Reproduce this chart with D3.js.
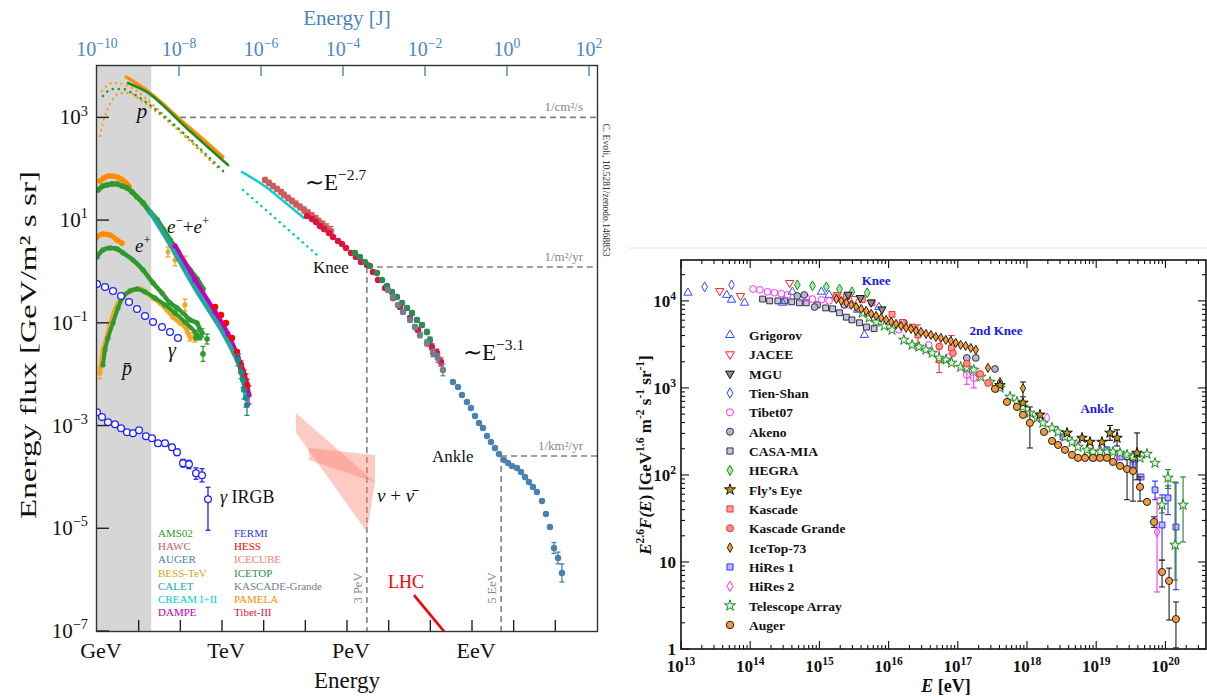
<!DOCTYPE html>
<html><head><meta charset="utf-8">
<script src="https://cdn.jsdelivr.net/npm/d3@7/dist/d3.min.js"></script>
<style>
html,body{margin:0;padding:0;background:#fff;}
svg{display:block;font-family:"Liberation Serif","Times New Roman",serif;}
</style></head><body>
<svg id="chart" width="1207" height="696"></svg>
<script>
// ================= LEFT PANEL DATA =================
// energy [GeV], energy flux E^2 dN/dE [GeV / m^2 s sr]
const xTickNames = ['GeV','TeV','PeV','EeV'];
const xTickNameValues = [1,1e3,1e6,1e9];
const xMinorValues = [1e1,1e2,1e4,1e5,1e7,1e8,1e10,1e11];
const jTickValues = [1e-10,1e-8,1e-6,1e-4,1e-2,1e0,1e2];
const jTickExps = ['\u221210','\u22128','\u22126','\u22124','\u22122','0','2'];
const yTickValuesL = [1e3,1e1,1e-1,1e-3,1e-5,1e-7];
const yTickExpsL = ['3','1','\u22121','\u22123','\u22125','\u22127'];
const shadeMaxGeV = 20;

const protonAMS = [[5.55,4680],[14.2,3270],[145,609],[1393,118]];
const protonPAMELA = [[4.97,6120],[14.2,3570],[145,693],[391,347],[1057,169]];
const protonDotGreen = [[1.39,2610],[1.84,3270],[2.42,3570],[3.19,3570],[4.21,3570],[6.19,3126],[9.12,2610],[15.8,1910],[1318,75.7]];
const protonDotOrangeHi = [[1.32,3270],[1.74,4090],[2.29,4680],[3.02,4680],[3.98,4480],[5.55,4090],[9.12,3270],[14.2,2390],[608,130]];
const protonDotOrangeLo = [[1.18,435],[1.32,681],[1.56,1067],[1.84,1525],[2.42,2285],[3.19,2860],[4.70,2990],[6.92,2860],[9.64,2390],[14.2,1910],[895,94.7]];
const creamSolid = [[3020,86.5],[1.42e4,38.6],[2.75e4,24.7],[9.29e4,11.0]];
const creamDotted = [[3192,38.6],[1.91e5,2.10]];

const hawc = [[1.08e4,60.4,0.12],[1.34e4,52.8,0.12],[1.67e4,46.1,0.12],[2.09e4,40.4,0.12],[2.61e4,35.2,0.12],[3.08e4,30.8,0.13],[3.84e4,27.0,0.13],[4.79e4,23.6,0.13],[5.97e4,20.6,0.14],[7.45e4,18.0,0.14],[9.29e4,15.7,0.15],[1.16e5,13.8,0.15],[1.45e5,12.0,0.16],[1.80e5,10.5,0.17],[2.13e5,9.18,0.18],[2.65e5,8.04,0.19],[3.31e5,7.03,0.2],[4.13e5,6.14,0.22]];
const tibet3 = [[1.10e5,12.0],[1.45e5,10.5],[1.80e5,9.2],[2.25e5,7.69],[2.81e5,6.71],[3.70e5,5.62],[4.61e5,4.70],[6.08e5,3.93],[7.59e5,3.43],[9.46e5,2.87],[1.25e6,2.29],[1.64e6,1.92],[2.17e6,1.53],[3.02e6,1.34],[4.21e6,0.977],[5.55e6,0.684],[8.17e6,0.477],[1.27e7,0.305,0.05],[1.87e7,0.204,0.06],[3.25e7,0.124,0.08],[5.05e7,0.0727,0.1],[8.77e7,0.0405,0.12],[1.09e8,0.0339,0.15],[1.44e8,0.0259,0.18],[1.80e8,0.0173,0.2]];
const icetopL = [[1.56e6,2.29,0.06],[2.05e6,1.92,0.06],[2.70e6,1.53,0.06],[3.56e6,1.28,0.06],[5.25e6,0.935,0.06],[6.92e6,0.684,0.07],[9.12e6,0.522,0.07],[1.20e7,0.399,0.08],[1.58e7,0.319,0.08],[2.09e7,0.244,0.09],[2.75e7,0.195,0.09],[3.63e7,0.156,0.1],[4.78e7,0.114,0.1],[6.30e7,0.0908,0.11],[8.30e7,0.0664,0.12],[9.80e7,0.0464,0.14]];
const kascadeGrandeL = [[9.64e6,0.436,0.08],[1.27e7,0.319,0.08],[1.67e7,0.223,0.09],[2.21e7,0.163,0.1],[3.25e7,0.114,0.1],[4.28e7,0.0830,0.12],[5.64e7,0.0579,0.13],[8.30e7,0.0405,0.15],[1.16e8,0.0259,0.18],[1.52e8,0.0207,0.22],[2.01e8,0.0121,0.3]];
const augerL = [[3.49e8,7.05e-3],[4.61e8,5.64e-3],[5.74e8,3.94e-3],[7.57e8,2.88e-3],[9.44e8,2.20e-3],[1.18e9,1.53e-3],[1.47e9,1.12e-3],[1.83e9,8.98e-4],[2.29e9,6.27e-4],[2.85e9,4.79e-4],[3.56e9,3.66e-4],[4.44e9,2.79e-4],[5.85e9,2.13e-4],[7.29e9,1.87e-4],[9.10e9,1.63e-4],[1.20e10,1.49e-4],[1.50e10,1.25e-4],[1.87e10,9.95e-5],[2.33e10,7.96e-5],[2.90e10,6.37e-5],[3.62e10,5.08e-5],[4.78e10,3.40e-5],[5.96e10,1.90e-5],[7.43e10,1.06e-5],[9.27e10,4.13e-6,0.28],[1.16e11,2.64e-6,0.3],[1.44e11,1.35e-6,0.5]];

const elecAMS = [[1.06,38.6],[1.39,46.2],[1.74,48.3],[2.29,50.6],[3.02,50.6],[3.98,46.2],[5.25,42.3],[6.92,35.3],[9.12,28.2],[12.7,21.6],[18.7,14.4],[27.5,10.1],[38.4,6.72],[56.5,4.10],[83.2,2.62],[116,1.67],[171,1.07],[251,0.714],[350,0.456]];
const elecPAMELA = [[1.18,57.8],[1.47,66.1],[1.84,72.3],[2.29,72.3],[3.02,69.1],[3.77,63.2],[4.70,55.3],[5.86,46.2]];
const elecBESS = [[50.6,2.40,0.25],[74.5,1.67,0.3],[129,1.53,0.3]];
const elecCALET = [[18.7,14.4],[42.9,4.91],[98.2,1.53],[225,0.477],[515,0.163],[1057,0.0635],[1837,0.0271],[2704,0.0132],[3565,0.00493]];
const elecCALETtail = [[2421,0.0189,0.3],[2858,0.0110,0.35],[3192,0.0077,0.4],[3373,0.00493,0.5],[3767,0.00344,0.5],[3981,0.00252,0.6]];
const elecDAMPE = [[74.5,3.14],[225,0.683],[679,0.163],[1393,0.0607],[2421,0.0216,0.15],[3767,0.0077,0.3],[4446,0.00394,0.5]];
const elecHESS = [[679,0.204],[946,0.142],[1247,0.0993],[1738,0.0507],[2291,0.0271],[2858,0.0151,0.2],[3373,0.00966,0.25],[3981,0.00617,0.3]];
const posAMS = [[1.0,1.92],[1.39,2.62],[2.05,2.87],[3.02,2.74],[4.21,2.29],[7.31,1.67],[12.7,1.07],[22.1,0.597],[36.3,0.381],[56.5,0.244],[83.2,0.195],[116,0.156],[171,0.114],[251,0.0993],[296,0.0726]];
const posPAMELA = [[1.0,4.70],[1.39,5.37],[2.05,5.14],[3.02,4.10],[3.98,3.59]];
const posPAMELAerr = [[129,0.223,0.3]];
const pbarPAMELA = [[1.18,0.0106,0.3],[1.39,0.0296],[1.74,0.0531],[2.05,0.0908],[2.70,0.178],[3.56,0.279],[5.25,0.381],[7.31,0.436],[10.8,0.456],[15.8,0.381],[22.1,0.305],[32.5,0.244],[47.9,0.178],[66.7,0.130],[98.2,0.0993],[145,0.0726,0.15],[171,0.0531,0.2],[225,0.0507,0.2]];
const pbarAMS = [[1.39,0.0151],[1.56,0.0296],[1.84,0.0507],[2.42,0.0993],[3.19,0.195],[4.21,0.319],[6.19,0.417],[9.12,0.456],[14.2,0.399],[24.6,0.305],[42.9,0.223],[74.5,0.156],[129,0.104],[225,0.0664],[296,0.0507]];
const pbarAMSerr = [[238,0.0531,0.15],[331,0.0635,0.2],[437,0.0484,0.25],[350,0.0248,0.4]];
const gammaFermi = [[1.0,0.571],[1.56,0.499],[2.42,0.417],[3.77,0.333],[5.86,0.255],[9.12,0.186],[14.2,0.136],[22.1,0.104],[36.3,0.083],[56.5,0.0664],[87.9,0.0507]];
const gammaIRGB = [[1.0,1.82e-3,1.75e-3,1.9e-3],[1.32,1.46e-3,1.4e-3,1.53e-3],[1.84,1.16e-3,1.1e-3,1.22e-3],[2.70,1.06e-3,1.0e-3,1.12e-3],[3.77,8.87e-4,8.3e-4,9.5e-4],[5.25,7.42e-4,6.9e-4,8.0e-4],[7.31,7.08e-4,6.5e-4,7.7e-4],[10.2,8.11e-4,7.5e-4,8.8e-4],[15.0,6.19e-4,5.7e-4,6.7e-4],[20.9,5.66e-4,5.1e-4,6.3e-4],[29.1,4.52e-4,4.0e-4,5.1e-4],[42.9,4.52e-4,4.0e-4,5.1e-4],[63.1,3.78e-4,3.3e-4,4.3e-4],[83.2,3.02e-4,2.6e-4,3.5e-4],[116,1.85e-4,1.55e-4,2.2e-4],[161,1.76e-4,1.45e-4,2.1e-4],[238,1.18e-4,9.0e-5,1.5e-4],[331,1.08e-4,8.0e-5,1.45e-4],[461,3.67e-5,9.15e-6,6.29e-5]];
const nuBandSteep = [[5.97e4,1.76e-3],[4.70e6,7.96e-5],[3.02e6,8.5e-6],[5.97e4,7.2e-4]];
const nuBandFlat = [[1.22e5,3.66e-4],[4.70e6,2.67e-4],[4.70e6,7.96e-5],[1.22e5,2.14e-4]];
const lhcLine = [[4.05e7,5.0e-7],[4.0e8,5.3e-8]];

// reference flux levels: [label, flux, start energy]
const refLevels = [['1/cm\u00b2/s',1e3,98],['1/m\u00b2/yr',1.22,3.0e6],['1/km\u00b2/yr',2.56e-4,5.0e9]];
const refEnergies = [['3 PeV',3.0e6,1.22],['5 EeV',5.0e9,2.56e-4]];

const legendLeftNames1 = ['AMS02','HAWC','AUGER','BESS-TeV','CALET','CREAM I+II','DAMPE'];
const legendLeftNames2 = ['FERMI','HESS','ICECUBE','ICETOP','KASCADE-Grande','PAMELA','Tibet-III'];

// ================= RIGHT PANEL DATA =================
// E [eV], E^2.6 F(E) [GeV^1.6 m^-2 s^-1 sr^-1], optional [lo, hi]
const xTickExpsR = [13,14,15,16,17,18,19,20];
const yTickValuesR = [1,10,100,1000,10000];

const grigorov = [[1.26e13,1.24e4],[4.57e13,1.17e4],[5.37e13,1.03e4],[8.3e13,9.5e3],[2.95e14,9.5e3],[4.07e14,1.27e4],[1.07e15,1.27e4],[1.38e15,1.17e4],[3.55e15,7.9e3],[4.47e15,4.06e3],[7.24e15,8.5e3]];
const jacee = [[3.63e13,1.30e4],[7.24e13,1.14e4],[3.72e14,1.61e4],[1.82e15,1.17e4],[3.2e15,1.05e4]];
const mgu = [[2.6e15,1.18e4],[3.9e15,1.08e4],[5.6e15,9.6e3],[8.0e15,8.0e3]];
const tienShan = [[2.2e13,1.45e4],[5.37e13,1.53e4]];
const tibet07 = [[1.10e14,1.37e4],[1.38e14,1.34e4],[1.78e14,1.27e4],[2.24e14,1.24e4],[2.82e14,1.21e4],[3.47e14,1.17e4],[6.46e14,1.08e4],[7.94e14,1.05e4],[1.07e15,1.03e4],[1.38e15,1.0e4],[2.69e15,9.0e3],[5.25e15,6.9e3],[1.41e16,4.66e3],[3.8e16,3.12e3],[7.4e16,2.26e3],[1.35e17,1.41e3,1.1e3,1.8e3],[1.7e17,1.30e3,1.0e3,1.7e3]];
const akeno = [[4.79e14,1.14e4],[6.03e14,1.17e4],[8.5e14,8.5e3],[2.29e15,8.99e3],[1.66e16,5.6e3],[1.35e17,2.21e3],[1.82e17,2.21e3],[3.45e17,1.65e3]];
const casaMia = [[1.51e14,1.05e4],[1.91e14,1.0e4],[2.51e14,1.0e4],[3.16e14,1.0e4],[3.98e14,9.75e3],[5.13e14,9.5e3],[6.46e14,9.5e3],[9.33e14,9.0e3],[1.23e15,8.3e3],[1.55e15,8.1e3],[1.95e15,7.3e3],[2.45e15,6.5e3],[2.95e15,6.05e3],[3.80e15,5.6e3],[4.79e15,5.0e3],[6.17e15,4.8e3]];
const hegra = [[4.79e14,1.53e4],[7.94e14,1.49e4],[1.26e15,1.45e4],[1.95e15,1.37e4],[2.95e15,1.27e4],[4.9e15,1.24e4]];
const flysEye = [[4.07e17,1.07e3],[8.75e17,673],[1.54e18,490],[3.79e18,304],[6.24e18,266],[8.13e18,239],[1.21e19,239],[1.58e19,304,250,370],[2.0e19,266,215,330],[3.89e19,179,88,304]];
const kascade = [[1.74e15,1.11e4],[2.45e15,1.11e4],[4.17e15,1.03e4],[5.75e15,9.5e3],[1.12e16,7.0e3],[1.58e16,5.65e3],[2.19e16,5.0e3],[2.65e16,4.06e3,3.1e3,5.3e3],[5.37e16,2.1e3,1.5e3,2.8e3],[8.1e16,2.88e3,1.9e3,4.0e3]];
const kascadeGrande = [[5.4e16,3.0e3],[8.5e16,2.5e3],[1.35e17,1.9e3],[2.1e17,1.45e3],[2.73e17,1.14e3]];
const icetop73 = [[1.76e15,1.05e4],[2.07e15,1.0e4],[2.45e15,9.5e3],[2.88e15,9.0e3],[3.40e15,8.53e3],[4.02e15,8.1e3],[4.74e15,7.67e3],[5.6e15,7.1e3],[6.6e15,6.73e3],[7.8e15,6.38e3],[9.2e15,6.05e3],[1.09e16,5.74e3],[1.28e16,5.44e3],[1.51e16,5.16e3],[1.79e16,4.9e3],[2.11e16,4.77e3],[2.49e16,4.52e3],[2.94e16,4.4e3],[3.47e16,4.18e3],[4.09e16,4.06e3],[4.82e16,3.85e3],[5.69e16,3.76e3],[6.71e16,3.56e3],[7.93e16,3.47e3],[9.35e16,3.29e3],[1.10e17,3.12e3],[1.30e17,3.04e3],[1.54e17,2.88e3],[1.82e17,2.74e3],[2.73e17,1.70e3],[4.07e17,1.17e3],[8.75e17,990,790,1170]];
const hires1 = [[3.31e18,274],[8.99e18,157],[1.43e19,194],[2.21e19,161],[3.40e19,130],[4.44e19,94.8],[7.08e19,67.3,52,85],[8.94e19,26.6,10.5,58.9],[1.09e20,54.5,35,75],[1.42e20,25.2,4.8,81]];
const hires2 = [[1.95e18,452],[5.46e18,239],[1.14e19,194],[2.0e19,161],[7.57e19,22.1,4.52,54.5]];
const telescopeArray = [[4.17e15,7.28e3],[5.25e15,6.38e3],[6.6e15,5.74e3],[8.7e15,5.16e3],[1.12e16,4.64e3],[1.66e16,3.56e3],[2.19e16,3.12e3],[2.75e16,2.96e3],[3.47e16,2.74e3],[4.27e16,2.52e3],[5.37e16,2.21e3],[6.76e16,2.1e3],[8.13e16,1.94e3],[1.10e17,1.74e3],[1.35e17,1.70e3],[1.70e17,1.61e3],[2.14e17,1.34e3],[2.92e17,1.17e3],[4.07e17,1.0e3],[5.68e17,789],[7.16e17,690],[8.75e17,605],[1.10e18,516],[1.40e18,452],[1.70e18,396],[2.30e18,347],[2.81e18,312],[3.54e18,274],[4.47e18,239],[5.46e18,210],[7.37e18,194],[8.99e18,184],[1.14e19,184],[1.43e19,184],[1.75e19,184],[2.21e19,179],[2.79e19,170],[3.40e19,161],[4.30e19,157],[5.42e19,174],[7.08e19,137],[8.94e19,45.2,36.6,54.5],[1.09e20,92.5,70,115],[1.38e20,15.7,6.2,83],[1.80e20,45.2,17,94.8]];
const auger = [[3.45e17,975],[5.14e17,690],[7.16e17,605],[8.75e17,490],[1.10e18,396,204,605],[1.76e18,312],[2.30e18,246],[2.81e18,221],[3.54e18,194],[4.47e18,170],[5.46e18,157],[6.89e18,157],[8.99e18,157],[1.14e19,157],[1.43e19,157],[1.75e19,141],[2.21e19,127],[2.79e19,117,52,150],[3.40e19,111,50,145],[4.30e19,72.8,50,95],[5.42e19,49],[6.84e19,28.8,25,33],[8.94e19,7.67,5.16,10.5],[1.13e20,6.05,2.15,8.5],[1.42e20,2.21,1.03,3.47]];

const legendRightNames = ['Grigorov','JACEE','MGU','Tien-Shan','Tibet07','Akeno','CASA-MIA','HEGRA',"Fly\u2019s Eye",'Kascade','Kascade Grande','IceTop-73','HiRes 1','HiRes 2','Telescope Array','Auger'];
const rightSeries = [grigorov,jacee,mgu,tienShan,tibet07,akeno,casaMia,hegra,flysEye,kascade,kascadeGrande,icetop73,hires1,hires2,telescopeArray,auger];
const drawOrderR = [6,0,1,3,4,5,7,9,2,12,13,14,11,10,8,15];

// ================= DRAWING =================
const svg = d3.select('#chart');
const defs = svg.append('defs');

function rich(g, x, y, parts, size, attrs){
  const t = g.append('text').attr('x',x).attr('y',y).attr('font-size',size);
  Object.entries(attrs||{}).forEach(([k,v])=>t.attr(k,v));
  let cur = 0;
  parts.forEach(p=>{
    const target = p.sup ? -size*0.42 : 0;
    const ts = t.append('tspan').attr('dy', target-cur).text(p.t);
    cur = target;
    if(p.sup) ts.attr('font-size', size*0.68);
    if(p.it) ts.attr('font-style','italic');
  });
  return t;
}

// ---------- LEFT PANEL ----------
const L = {x0:97, x1:597, y0:66, y1:631};
const xL = d3.scaleLog().domain([1,1e12]).range([L.x0,L.x1]);
const xJ = d3.scaleLog().domain([1e-10,156.7]).range([L.x0,L.x1]);
const yL = d3.scaleLog().domain([1e-7,1e4]).range([L.y1,L.y0]);
const colL = {AMS02:'#2e9a2e',HAWC:'#cd5c5c',AUGER:'#4682b4','BESS-TeV':'#daa520',CALET:'#20a8a0','CREAM I+II':'#00ced1',DAMPE:'#c000c0',FERMI:'#3333ff',HESS:'#ff0000',ICECUBE:'#fa8072',ICETOP:'#2e8b57','KASCADE-Grande':'#708090',PAMELA:'#ff8c00','Tibet-III':'#dc143c'};

defs.append('clipPath').attr('id','clipL').append('rect').attr('x',L.x0).attr('y',L.y0).attr('width',L.x1-L.x0).attr('height',L.y1-L.y0);
const gL = svg.append('g').attr('clip-path','url(#clipL)');

gL.append('rect').attr('x',xL(1)).attr('y',L.y0).attr('width',xL(shadeMaxGeV)-xL(1)).attr('height',L.y1-L.y0).attr('fill','#d6d6d6');

refLevels.forEach(r=>{
  gL.append('line').attr('x1',xL(r[2])).attr('x2',L.x1).attr('y1',yL(r[1])).attr('y2',yL(r[1]))
    .attr('stroke','#808080').attr('stroke-width',1.6).attr('stroke-dasharray','6,4');
});
refEnergies.forEach(r=>{
  gL.append('line').attr('x1',xL(r[1])).attr('x2',xL(r[1])).attr('y1',yL(r[2])).attr('y2',L.y1)
    .attr('stroke','#808080').attr('stroke-width',1.6).attr('stroke-dasharray','6,4');
});

const polyL = d3.line().x(d=>xL(d[0])).y(d=>yL(d[1]));
[nuBandSteep,nuBandFlat].forEach(b=>{
  gL.append('path').attr('d',polyL(b)+'Z').attr('fill',colL.ICECUBE).attr('fill-opacity',0.42);
});

function pathL(data, color, w, dash){
  gL.append('path').datum(data)
    .attr('d', d3.line().x(d=>xL(d[0])).y(d=>yL(d[1])).curve(d3.curveMonotoneX))
    .attr('fill','none').attr('stroke',color).attr('stroke-width',w)
    .attr('stroke-dasharray',dash||null).attr('stroke-linecap','round').attr('stroke-linejoin','round');
}
function errL(d){
  if(d.length===3) return [d[1]/(1+d[2]), d[1]*(1+d[2])];
  if(d.length===4) return [d[2],d[3]];
  return null;
}
function dotsL(data, color, r, open){
  data.forEach(d=>{
    const e = errL(d);
    if(e){
      const x = xL(d[0]);
      gL.append('line').attr('x1',x).attr('x2',x).attr('y1',yL(e[0])).attr('y2',yL(e[1])).attr('stroke',color).attr('stroke-width',1.3);
      [e[0],e[1]].forEach(v=>gL.append('line').attr('x1',x-2.5).attr('x2',x+2.5).attr('y1',yL(v)).attr('y2',yL(v)).attr('stroke',color).attr('stroke-width',1.3));
    }
  });
  gL.append('g').selectAll('circle').data(data).join('circle')
    .attr('cx',d=>xL(d[0])).attr('cy',d=>yL(d[1])).attr('r',r)
    .attr('fill',open?'#fff':color).attr('stroke',color).attr('stroke-width',open?1.3:0);
}

pathL(protonDotOrangeLo,'#f5a623',2.6,'0.1,5.5');
pathL(protonDotOrangeHi,'#f5a623',2.6,'0.1,5.5');
pathL(protonDotGreen,'#2e9a2e',2.6,'0.1,6');
pathL(protonPAMELA,'#ff8c00',3.2);
pathL(protonAMS,'#228b22',2.6);
pathL(creamSolid,colL['CREAM I+II'],2.4);
pathL(creamDotted,colL['CREAM I+II'],2.6,'0.1,6');
dotsL(hawc,colL.HAWC,3.2);
dotsL(tibet3,colL['Tibet-III'],3.2);
dotsL(icetopL,colL.ICETOP,3.2);
dotsL(kascadeGrandeL,colL['KASCADE-Grande'],3.2);
dotsL(augerL,colL.AUGER,3.2);

pathL(elecPAMELA,'#ff8c00',5);
dotsL(elecPAMELA,'#ff8c00',2.8);
pathL(elecAMS,'#2e9a2e',5);
dotsL(elecAMS,'#2e9a2e',2.8);
dotsL(elecBESS,'#f5a623',2.5);
pathL(elecDAMPE,colL.DAMPE,4.5);
pathL(elecCALET,colL.CALET,4.5);
dotsL(elecDAMPE,colL.DAMPE,2.6);
dotsL(elecHESS,colL.HESS,3.2);
dotsL(elecCALETtail,'#1b8a8a',3);
pathL(posPAMELA,'#ff8c00',5);
dotsL(posPAMELA,'#ff8c00',2.8);
pathL(posAMS,'#2e9a2e',4.5);
dotsL(posAMS,'#2e9a2e',2.6);
dotsL(posPAMELAerr,'#f5a623',2.6);
pathL(pbarPAMELA,'#f5a623',4.5);
dotsL(pbarPAMELA,'#f5a623',2.6);
pathL(pbarAMS,'#2e9a2e',4);
dotsL(pbarAMS,'#2e9a2e',2.6);
dotsL(pbarAMSerr,'#2e9a2e',2.8);
dotsL(gammaFermi,'#2222ff',3.4,true);
dotsL(gammaIRGB,'#2222ff',3.4,true);

gL.append('path').datum(lhcLine).attr('d',d3.line().x(d=>xL(d[0])).y(d=>yL(d[1]))).attr('stroke','#ff0000').attr('stroke-width',2.6).attr('fill','none');

const annL = svg.append('g').attr('fill','#111');
rich(annL,xL(12.0),yL(975),[{t:'p',it:true}],21,{'text-anchor':'middle'});
rich(annL,xL(47.9),yL(5.62),[{t:'e',it:true},{t:'\u2212',sup:true},{t:'+'},{t:'e',it:true},{t:'+',sup:true}],19);
rich(annL,xL(8.17),yL(2.40),[{t:'e',it:true},{t:'+',sup:true}],19);
rich(annL,xL(63.1),yL(0.0216),[{t:'\u03b3',it:true}],20,{'text-anchor':'middle'});
rich(annL,xL(5.25),yL(9.66e-3),[{t:'p\u0304',it:true}],20,{'text-anchor':'middle'});
rich(annL,xL(895),yL(3.11e-5),[{t:'\u03b3',it:true},{t:' IRGB'}],18);
rich(annL,xL(9.82e4),yL(38.6),[{t:'\u223cE'},{t:'\u22122.7',sup:true}],23);
rich(annL,xL(6.07e8),yL(0.0189),[{t:'\u223cE'},{t:'\u22123.1',sup:true}],23);
rich(annL,xL(1.53e5),yL(0.935),[{t:'Knee'}],17);
rich(annL,xL(1.09e8),yL(1.95e-4),[{t:'Ankle'}],17);
rich(annL,xL(5.25e6),yL(3.25e-5),[{t:'\u03bd',it:true},{t:' + '},{t:'\u03bd\u0304',it:true}],19);
rich(annL,xL(9.64e6),yL(6.88e-7),[{t:'LHC'}],18,{fill:'#ff0000'});
refLevels.forEach(r=>{
  annL.append('text').attr('x',L.x1-14).attr('y',yL(r[1])-6).attr('text-anchor','end').attr('font-size',13).attr('fill','#888').text(r[0]);
});
refEnergies.forEach(r=>{
  annL.append('text').attr('transform',`translate(${xL(r[1])-5},588) rotate(-90)`).attr('text-anchor','middle').attr('font-size',12.5).attr('fill','#888').text(r[0]);
});

legendLeftNames1.forEach((n,i)=>annL.append('text').attr('x',158).attr('y',537+i*13.2).attr('font-size',11).attr('fill',colL[n]).text(n));
legendLeftNames2.forEach((n,i)=>annL.append('text').attr('x',234).attr('y',537+i*13.2).attr('font-size',11).attr('fill',colL[n]).text(n));

const axL = svg.append('g');
axL.append('rect').attr('x',L.x0-0.5).attr('y',L.y0-0.5).attr('width',L.x1-L.x0+1).attr('height',L.y1-L.y0+1).attr('fill','none').attr('stroke','#333').attr('stroke-width',1.4);
xTickNameValues.concat(xMinorValues).forEach(v=>{
  if(v<=1) return;
  axL.append('line').attr('x1',xL(v)).attr('x2',xL(v)).attr('y1',L.y1).attr('y2',L.y1-11).attr('stroke','#222').attr('stroke-width',1.4);
});
xTickNames.forEach((n,i)=>axL.append('text').attr('x',xL(xTickNameValues[i])+4).attr('y',658).attr('text-anchor','middle').attr('font-size',22).attr('fill','#111').text(n));
axL.append('text').attr('x',347).attr('y',688).attr('text-anchor','middle').attr('font-size',23).attr('fill','#111').text('Energy');
yTickValuesL.forEach((v,i)=>{
  axL.append('line').attr('x1',L.x0).attr('x2',L.x0+12).attr('y1',yL(v)).attr('y2',yL(v)).attr('stroke','#222').attr('stroke-width',1.4);
  rich(axL,88,yL(v)+7,[{t:'10'},{t:yTickExpsL[i],sup:true}],21,{'text-anchor':'end',fill:'#111'});
});
axL.append('text').attr('transform','translate(36,345) rotate(-90)').attr('text-anchor','middle').attr('font-size',23).attr('fill','#111')
  .attr('textLength',348).attr('lengthAdjust','spacingAndGlyphs').text('Energy flux [GeV/m\u00b2 s sr]');
const jBlue = '#4a86bf';
jTickValues.forEach((v,i)=>{
  if(i>0) axL.append('line').attr('x1',xJ(v)).attr('x2',xJ(v)).attr('y1',L.y0).attr('y2',L.y0+10).attr('stroke',jBlue).attr('stroke-width',1.4);
  rich(axL,xJ(v),56,[{t:'10'},{t:jTickExps[i],sup:true}],20,{'text-anchor':'middle',fill:jBlue});
});
axL.append('text').attr('x',347).attr('y',25).attr('text-anchor','middle').attr('font-size',21).attr('fill',jBlue).text('Energy [J]');
axL.append('text').attr('transform','translate(603,190) rotate(90)').attr('text-anchor','middle').attr('font-size',9.5).attr('fill','#333').text('C. Evoli, 10.5281/zenodo.1468853');

// ---------- RIGHT PANEL ----------
const R = {x0:681, x1:1206, y0:260, y1:649};
const xR = d3.scaleLog().domain([1e13,3.86e20]).range([R.x0,R.x1]);
const yR = d3.scaleLog().domain([1,2.95e4]).range([R.y1,R.y0]);
svg.append('line').attr('x1',628).attr('x2',1207).attr('y1',248).attr('y2',248).attr('stroke','#e4e4e4').attr('stroke-width',1);
defs.append('clipPath').attr('id','clipR').append('rect').attr('x',R.x0).attr('y',R.y0).attr('width',R.x1-R.x0).attr('height',R.y1-R.y0);
const gR = svg.append('g').attr('clip-path','url(#clipR)');

const stylesR = [
  {shape:d3.symbolTriangle,rot:0,fill:'none',stroke:'#2b4cff',size:30},
  {shape:d3.symbolTriangle,rot:180,fill:'none',stroke:'#ff2020',size:30},
  {shape:d3.symbolTriangle,rot:180,fill:'#8a8a8a',stroke:'#111',size:30},
  {shape:d3.symbolDiamond,rot:0,fill:'none',stroke:'#2b4cff',size:28},
  {shape:d3.symbolCircle,rot:0,fill:'none',stroke:'#ff30ff',size:36},
  {shape:d3.symbolCircle,rot:0,fill:'#b4b4dc',stroke:'#333',size:36},
  {shape:d3.symbolSquare,rot:0,fill:'#c2c2ea',stroke:'#333',size:34},
  {shape:d3.symbolDiamond,rot:0,fill:'#a8e8a8',stroke:'#149414',size:28},
  {shape:d3.symbolStar,rot:0,fill:'#c8960f',stroke:'#111',size:34},
  {shape:d3.symbolSquare,rot:0,fill:'#ff9c9c',stroke:'#ff3030',size:34},
  {shape:d3.symbolCircle,rot:0,fill:'#ff8c8c',stroke:'#ff3030',size:36},
  {shape:d3.symbolDiamond,rot:0,fill:'#ff9a30',stroke:'#222',size:24},
  {shape:d3.symbolSquare,rot:0,fill:'#b8bcff',stroke:'#3030ff',size:34},
  {shape:d3.symbolDiamond,rot:0,fill:'none',stroke:'#ff30ff',size:28},
  {shape:d3.symbolStar,rot:0,fill:'#dff5df',stroke:'#1e8a1e',size:34},
  {shape:d3.symbolCircle,rot:0,fill:'#f59a3a',stroke:'#222',size:40}
];
function drawSym(g,x,y,st,scale){
  g.append('path').attr('d',d3.symbol().type(st.shape).size(st.size*(scale||1))())
    .attr('transform',`translate(${x},${y}) rotate(${st.rot})`)
    .attr('fill',st.fill).attr('stroke',st.stroke).attr('stroke-width',1);
}
drawOrderR.forEach(si=>{
  const st = stylesR[si], data = rightSeries[si];
  data.forEach(d=>{
    if(d.length===4){
      const x=xR(d[0]);
      gR.append('line').attr('x1',x).attr('x2',x).attr('y1',yR(d[2])).attr('y2',yR(d[3])).attr('stroke',st.stroke).attr('stroke-width',1.1);
      [d[2],d[3]].forEach(v=>gR.append('line').attr('x1',x-3).attr('x2',x+3).attr('y1',yR(v)).attr('y2',yR(v)).attr('stroke',st.stroke).attr('stroke-width',1.1));
    }
  });
  data.forEach(d=>drawSym(gR,xR(d[0]),yR(d[1]),st));
});

const legR = svg.append('g');
legendRightNames.forEach((n,i)=>{
  const y = 335+i*19.33;
  drawSym(legR,730,y,stylesR[i],1.1);
  legR.append('text').attr('x',749).attr('y',y+5).attr('font-size',13.5).attr('font-weight','bold').attr('fill','#111').text(n);
});

[['Knee',6.6e15,1.53e4],['2nd Knee',3.57e17,4.06e3],['Ankle',1.03e19,516]].forEach(a=>{
  svg.append('text').attr('x',xR(a[1])).attr('y',yR(a[2])).attr('text-anchor','middle').attr('font-size',13).attr('font-weight','bold').attr('fill','#1a1aee').text(a[0]);
});

const axR = svg.append('g');
axR.append('rect').attr('x',R.x0).attr('y',R.y0).attr('width',R.x1-R.x0).attr('height',R.y1-R.y0).attr('fill','none').attr('stroke','#111').attr('stroke-width',1.6);
for(let e=13;e<=20;e++){
  for(let k=1;k<=9;k++){
    const v=k*Math.pow(10,e); if(v>3.86e20) continue;
    const len = k===1?8:4; const x=xR(v);
    axR.append('line').attr('x1',x).attr('x2',x).attr('y1',R.y1).attr('y2',R.y1-len).attr('stroke','#111').attr('stroke-width',1.1);
    axR.append('line').attr('x1',x).attr('x2',x).attr('y1',R.y0).attr('y2',R.y0+len).attr('stroke','#111').attr('stroke-width',1.1);
  }
}
for(let e=0;e<=4;e++){
  for(let k=1;k<=9;k++){
    const v=k*Math.pow(10,e); if(v>2.95e4) continue;
    const len = k===1?8:4; const y=yR(v);
    axR.append('line').attr('x1',R.x0).attr('x2',R.x0+len).attr('y1',y).attr('y2',y).attr('stroke','#111').attr('stroke-width',1.1);
    axR.append('line').attr('x1',R.x1).attr('x2',R.x1-len).attr('y1',y).attr('y2',y).attr('stroke','#111').attr('stroke-width',1.1);
  }
}
xTickExpsR.forEach(e=>rich(axR,xR(Math.pow(10,e)),672,[{t:'10'},{t:String(e),sup:true}],17,{'text-anchor':'middle','font-weight':'bold',fill:'#111'}));
yTickValuesR.forEach(v=>{
  const parts = v===1?[{t:'1'}]:(v===10?[{t:'10'}]:[{t:'10'},{t:String(Math.round(Math.log10(v))),sup:true}]);
  rich(axR,676,yR(v)+6,parts,17,{'text-anchor':'end','font-weight':'bold',fill:'#111'});
});
rich(axR,946,692,[{t:'E',it:true},{t:' [eV]'}],18,{'text-anchor':'middle','font-weight':'bold',fill:'#111'});
rich(axR,0,0,[{t:'E',it:true},{t:'2.6',sup:true},{t:'F',it:true},{t:'(',it:true},{t:'E',it:true},{t:') [GeV',it:false},{t:'1.6',sup:true},{t:' m'},{t:'-2',sup:true},{t:' s'},{t:'-1',sup:true},{t:' sr'},{t:'-1',sup:true},{t:']'}],17,
  {'text-anchor':'middle','font-weight':'bold',fill:'#111',transform:'translate(651,455) rotate(-90)'});
</script>
</body></html>
